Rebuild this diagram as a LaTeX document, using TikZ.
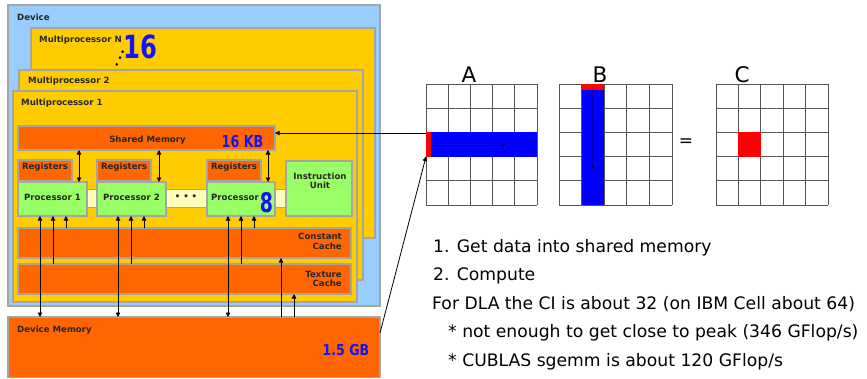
\documentclass[tikz,border=0pt]{standalone}
\usepackage{fontspec}
\setmainfont{DejaVu Sans}
\usetikzlibrary{arrows.meta}
\definecolor{devblue}{RGB}{153,204,255}
\definecolor{mpyel}{RGB}{255,204,0}
\definecolor{org}{RGB}{255,102,0}
\definecolor{grn}{RGB}{153,255,102}
\definecolor{lyel}{RGB}{255,255,187}
\definecolor{bgray}{RGB}{165,165,165}
\definecolor{numblue}{RGB}{20,20,245}
\definecolor{gridgray}{RGB}{85,85,85}
\definecolor{rd}{RGB}{255,0,0}
\definecolor{bl}{RGB}{0,0,255}
\begin{document}
\begin{tikzpicture}[x=1pt,y=-1pt,
  rbox/.style={draw=bgray, line width=1.3pt, inner sep=0pt, outer sep=0pt, anchor=north west},
  plain/.style={draw=none, inner sep=0pt, outer sep=0pt, anchor=north west},
  lab/.style={font=\fontsize{8.6}{10}\selectfont\bfseries, text=black!85, inner sep=0pt},
  big/.style={text=numblue, inner sep=0pt},
  arr/.style={line width=0.8pt, -{Triangle[length=4.5pt,width=4.5pt]}},
  darr/.style={line width=0.8pt, {Triangle[length=4.5pt,width=4.5pt]}-{Triangle[length=4.5pt,width=4.5pt]}},
  sarr/.style={line width=0.6pt, -{Triangle[length=3pt,width=3pt]}},
  txt/.style={font=\fontsize{17.2}{20}\selectfont, anchor=base west, inner sep=0pt},
  gline/.style={draw=gridgray, line width=0.8pt},
]
\useasboundingbox (0,0) rectangle (867,378);

% ---------- left: device ----------
\node[rbox, fill=devblue, minimum width=372pt, minimum height=301pt] (dev) at (8,5) {};
\node[rbox, fill=mpyel, minimum width=344pt, minimum height=210pt] (mpn) at (31,28) {};
\node[rbox, fill=mpyel, minimum width=344pt, minimum height=210pt] (mp2) at (19,70) {};
\node[rbox, fill=mpyel, minimum width=344pt, minimum height=211pt] (mp1) at (13,91) {};

\node[rbox, fill=org, minimum width=257pt, minimum height=24pt] (sm) at (18,126) {};
\node[rbox, fill=org, minimum width=54pt, minimum height=21pt] (r1) at (18,160) {};
\node[rbox, fill=org, minimum width=54pt, minimum height=21pt] (r2) at (97,160) {};
\node[rbox, fill=org, minimum width=54pt, minimum height=21pt] (r3) at (207,160) {};
\node[rbox, fill=lyel, line width=0.8pt, minimum width=199pt, minimum height=18pt] (strip) at (87,189) {};
\node[rbox, fill=grn, minimum width=69pt, minimum height=34pt] (p1) at (18,182) {};
\node[rbox, fill=grn, minimum width=69pt, minimum height=34pt] (p2) at (97,182) {};
\node[rbox, fill=grn, minimum width=68pt, minimum height=34pt] (p8) at (207,182) {};
\node[rbox, fill=grn, minimum width=66pt, minimum height=55pt] (iu) at (286,161) {};
\node[rbox, fill=org, minimum width=333pt, minimum height=30pt] (cc) at (18,228) {};
\node[rbox, fill=org, minimum width=333pt, minimum height=30pt] (tc) at (18,264) {};
\node[rbox, fill=org, minimum width=372pt, minimum height=60.5pt] (dm) at (8,317) {};

% labels
\node[lab, anchor=base west] (tdev) at (17,20) {Device};
\node[lab, anchor=base west] (tmpn) at (39,42) {Multiprocessor N};
\node[lab, anchor=base west] (tmp2) at (28,83) {Multiprocessor 2};
\node[lab, anchor=base west] (tmp1) at (21,105) {Multiprocessor 1};
\node[lab, anchor=base] (tsm) at (147.5,142) {Shared Memory};
\node[lab, anchor=base] (tr1) at (45,169) {Registers};
\node[lab, anchor=base] (tr2) at (124,169) {Registers};
\node[lab, anchor=base] (tr3) at (234,169) {Registers};
\node[lab, anchor=base] (tp1) at (52.5,200) {Processor 1};
\node[lab, anchor=base] (tp2) at (131.5,200) {Processor 2};
\node[lab, anchor=base] (tp8) at (235,200) {Processor};
\node[lab, anchor=base] (tdots) at (186,199) {• • •};
\node[lab, anchor=base] (tiu1) at (320,179) {Instruction};
\node[lab, anchor=base] (tiu2) at (320,188) {Unit};
\node[lab, anchor=base east] (tcc1) at (342,239.5) {Constant};
\node[lab, anchor=base east] (tcc2) at (342,249) {Cache};
\node[lab, anchor=base east] (ttc1) at (342,277) {Texture};
\node[lab, anchor=base east] (ttc2) at (342,286) {Cache};
\node[lab, anchor=base west] (tdm) at (17,332) {Device Memory};

% dots of multiprocessors
\fill (122.7,51.7) circle (1.5);
\fill (120,57.5) circle (1.5);
\fill (116.8,64.3) circle (1.5);

% big blue numbers
\node[big, font=\fontsize{32}{32}\selectfont\bfseries] (n16) at (140,47) {\scalebox{0.76}[1]{16}};
\node[big, font=\fontsize{27}{27}\selectfont\bfseries] (n8) at (266.5,203) {\scalebox{0.7}[1]{8}};
\node[big, font=\fontsize{16.5}{16.5}\selectfont\bfseries] (n16kb) at (242.5,141) {\scalebox{0.77}[1]{16 KB}};
\node[big, font=\fontsize{15}{15}\selectfont\bfseries] (n15gb) at (346,350.5) {\scalebox{0.84}[1]{1.5 GB}};

% arrows shared memory <-> processors
\draw[darr] (sm.south -| 79,0) -- (p1.north -| 79,0);
\draw[darr] (sm.south -| 159,0) -- (p2.north -| 159,0);
\draw[darr] (sm.south -| 268,0) -- (p8.north -| 268,0);
% processors <-> device memory / caches
\draw[darr] (p1.south -| 40,0) -- (dm.north -| 40,0);
\draw[arr] (tc.north -| 53,0) -- (p1.south -| 53,0);
\draw[arr] (cc.north -| 66,0) -- (p1.south -| 66,0);
\draw[darr] (p2.south -| 118,0) -- (dm.north -| 118,0);
\draw[arr] (tc.north -| 131,0) -- (p2.south -| 131,0);
\draw[arr] (cc.north -| 144,0) -- (p2.south -| 144,0);
\draw[darr] (p8.south -| 228,0) -- (dm.north -| 228,0);
\draw[arr] (tc.north -| 241,0) -- (p8.south -| 241,0);
\draw[arr] (cc.north -| 254,0) -- (p8.south -| 254,0);
\draw[arr] (dm.north -| 281,0) -- (cc.south -| 281,0);
\draw[arr] (dm.north -| 294,0) -- (tc.south -| 294,0);

% ---------- right: matrices ----------
\node[plain, minimum width=111pt, minimum height=121pt] (ga) at (426,84) {};
\node[plain, minimum width=113pt, minimum height=121pt] (gb) at (559,84) {};
\node[plain, minimum width=112pt, minimum height=121pt] (gc) at (716,84) {};
\foreach \i in {0,...,5}{
  \draw[gline] (426+\i*22.2,84) -- (426+\i*22.2,205);
  \draw[gline] (426,84+\i*24.2) -- (537,84+\i*24.2);
  \draw[gline] (559+\i*22.6,84) -- (559+\i*22.6,205);
  \draw[gline] (559,84+\i*24.2) -- (672,84+\i*24.2);
  \draw[gline] (716+\i*22.4,84) -- (716+\i*22.4,205);
  \draw[gline] (716,84+\i*24.2) -- (828,84+\i*24.2);
}
\node[plain, fill=bl, minimum width=111pt, minimum height=24.2pt] (ba) at (426,132.4) {};
\node[plain, fill=rd, minimum width=5pt, minimum height=24.2pt] (ra) at (426,132.4) {};
\node[plain, fill=bl, minimum width=22.6pt, minimum height=121pt] (bb) at (581.6,84) {};
\node[plain, fill=rd, minimum width=22.6pt, minimum height=6pt] (rb) at (581.6,84) {};
\node[plain, fill=rd, minimum width=22.4pt, minimum height=24.2pt] (rc) at (738.4,132.4) {};

\draw[sarr] (ra.east |- 0,145) -- (506,145);
\draw[sarr] (rb.south) -- (593,169);

\node[font=\fontsize{21.5}{22}\selectfont, anchor=base, inner sep=0pt] (la) at (469,82) {A};
\node[font=\fontsize{21.5}{22}\selectfont, anchor=base, inner sep=0pt] (lb) at (600,82) {B};
\node[font=\fontsize{21.5}{22}\selectfont, anchor=base, inner sep=0pt] (lc) at (742,82) {C};
\node[font=\fontsize{17}{17}\selectfont, inner sep=0pt] (eq) at (686,142.5) {=};

% connectors to left diagram
\draw[arr] (ga.north west |- 0,133) -- (sm.east |- 0,133);
\draw[arr] (dm.north east |- 0,333) -- (ra.south west);

% ---------- text ----------
\node[txt] (l1) at (433,252) {1. Get data into shared memory};
\node[txt] (l2) at (433,280.5) {2. Compute};
\node[txt] (l3) at (432,309) {For DLA the CI is about 32 (on IBM Cell about 64)};
\node[txt] (l4) at (448,337.5) {* not enough to get close to peak (346 GFlop/s)};
\node[txt] (l5) at (448,366) {* CUBLAS sgemm is about 120 GFlop/s};
\end{tikzpicture}
\end{document}
